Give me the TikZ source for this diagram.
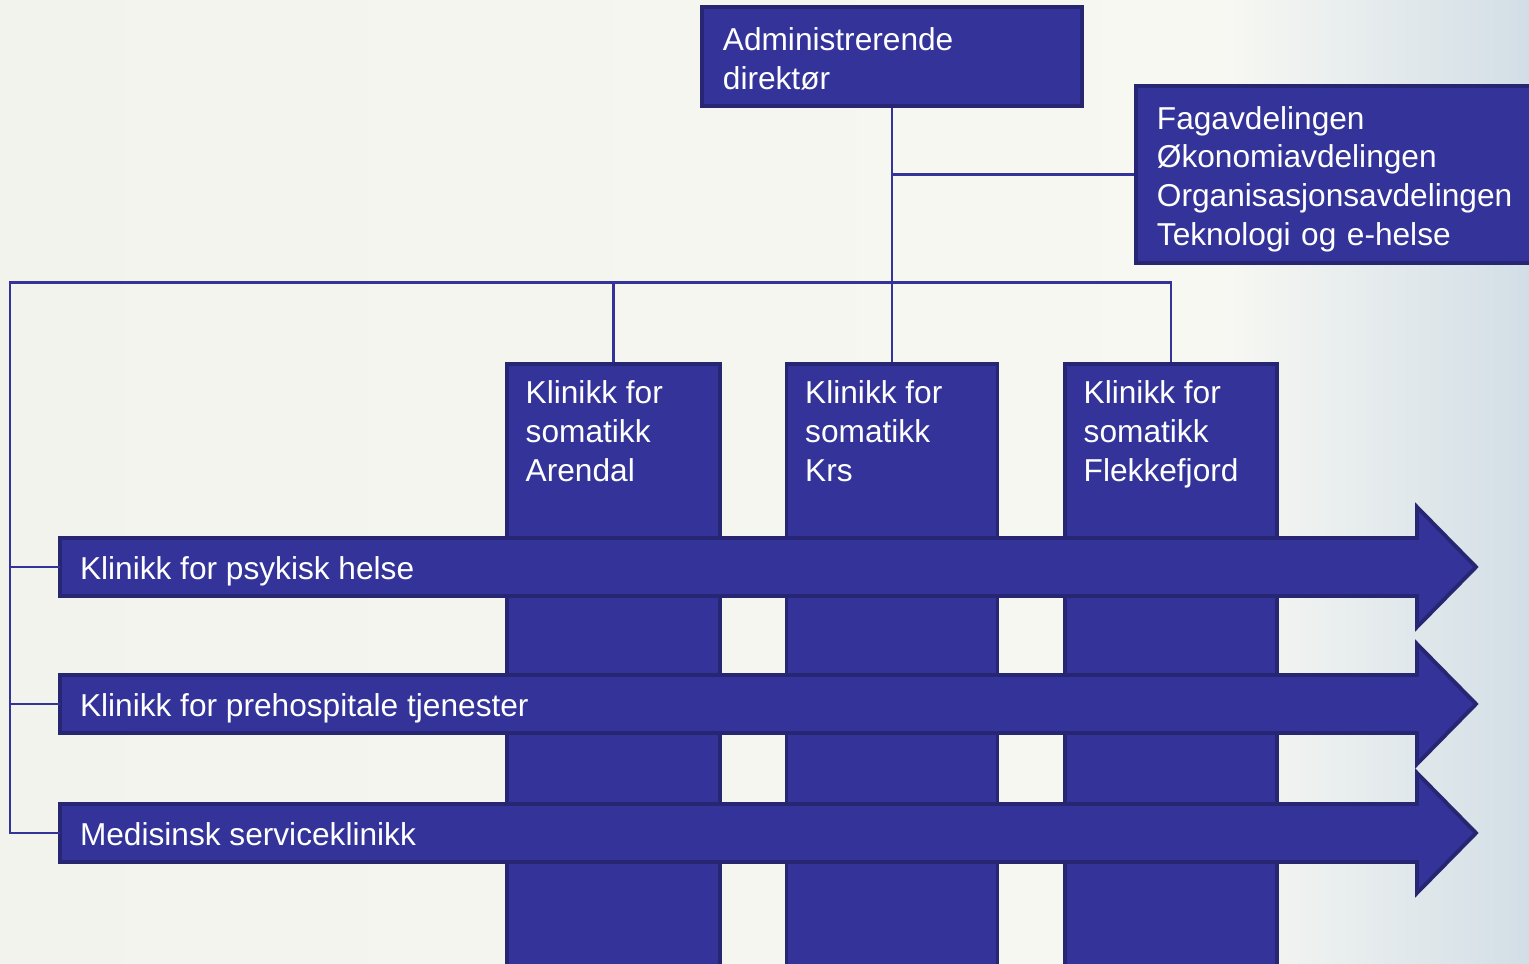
\documentclass[tikz,border=0pt]{standalone}
\usepackage{fontspec}
\setmainfont{Liberation Sans}
\usetikzlibrary{positioning}
\definecolor{boxfill}{HTML}{333399}
\definecolor{boxline}{HTML}{262673}
\definecolor{bgleft}{HTML}{F3F3EE}
\definecolor{bgmid}{HTML}{F8F8F3}
\definecolor{bgright}{HTML}{D2DEE6}
\pgfdeclarehorizontalshading{slidebg}{100bp}{color(0bp)=(bgleft); color(25bp)=(bgleft); color(65bp)=(bgmid); color(75bp)=(bgright); color(100bp)=(bgright)}

\tikzset{
  orgbox/.style={fill=boxfill, draw=boxline, line width=1.1pt, text=white, align=left,
    font=\fontsize{9pt}{11pt}\selectfont, inner ysep=0pt},
  colbox/.style={fill=boxfill, draw=boxline, line width=1.1pt, inner sep=0pt},
  coltext/.style={text=white, align=left, font=\fontsize{9pt}{11pt}\selectfont,
    inner xsep=0.2cm, inner ysep=0.18cm},
  armbox/.style={fill=boxfill, draw=boxline, line width=1.1pt},
  armtext/.style={text=white, font=\fontsize{9pt}{11pt}\selectfont, anchor=west,
    inner xsep=0.2cm, outer sep=0pt, text height=0.72em, text depth=0pt},
  orgline/.style={draw=boxfill, line width=0.85pt}
}

\begin{document}
\begin{tikzpicture}[x=0.01cm,y=-0.01cm]
 \shade[shading=slidebg] (0,0) rectangle (1529,964);
 \useasboundingbox (0,0) rectangle (1529,964);

 % top level
 \node[orgbox, minimum width=3.8cm, minimum height=0.99cm, text width=3.38cm] (admin) at (892,56.5) {\rule{0pt}{0.86em}Administrerende\\direktør};
 \node[orgbox, anchor=west, minimum width=4.11cm, minimum height=1.77cm, text width=3.69cm] (staff) at (1134,174.5) {\rule{0pt}{1em}Fagavdelingen\\Økonomiavdelingen\\Organisasjonsavdelingen\\Teknologi og e-helse};

 % somatic clinics
 \node[colbox, anchor=north, minimum width=2.13cm, minimum height=6.2cm] (arendal) at (613.5,362) {};
 \node[colbox, anchor=north, minimum width=2.11cm, minimum height=6.2cm] (krs) at (892,362) {};
 \node[colbox, anchor=north, minimum width=2.12cm, minimum height=6.2cm] (flekk) at (1171,362) {};
 \node[coltext, anchor=north west] at (arendal.north west) {Klinikk for\\somatikk\\Arendal};
 \node[coltext, anchor=north west] at (krs.north west) {Klinikk for\\somatikk\\Krs};
 \node[coltext, anchor=north west] at (flekk.north west) {Klinikk for\\somatikk\\Flekkefjord};

 % cross clinics
 \path[armbox] (60,538) -- (1417,538) -- (1417,507) -- (1476,567) -- (1417,627) -- (1417,596) -- (60,596) -- cycle;
 \path[armbox] (60,675) -- (1417,675) -- (1417,644) -- (1476,704) -- (1417,764) -- (1417,733) -- (60,733) -- cycle;
 \path[armbox] (60,804) -- (1417,804) -- (1417,773) -- (1476,833) -- (1417,893) -- (1417,862) -- (60,862) -- cycle;
 \node[armtext] (psyk) at (60,567) {Klinikk for psykisk helse};
 \node[armtext] (preh) at (60,704) {Klinikk for prehospitale tjenester};
 \node[armtext] (med) at (60,833) {Medisinsk serviceklinikk};

 % lines
 \coordinate (spine) at (10,283);
 \draw[orgline] (admin.south) -- (krs.north);
 \draw[orgline] (admin.south |- staff.west) -- (staff.west);
 \draw[orgline] (med.west) -| (spine) -- (spine -| flekk.north) -- (flekk.north);
 \draw[orgline] (arendal.north) -- (arendal.north |- spine);
 \draw[orgline] (spine |- psyk.west) -- (psyk.west);
 \draw[orgline] (spine |- preh.west) -- (preh.west);
\end{tikzpicture}
\end{document}
